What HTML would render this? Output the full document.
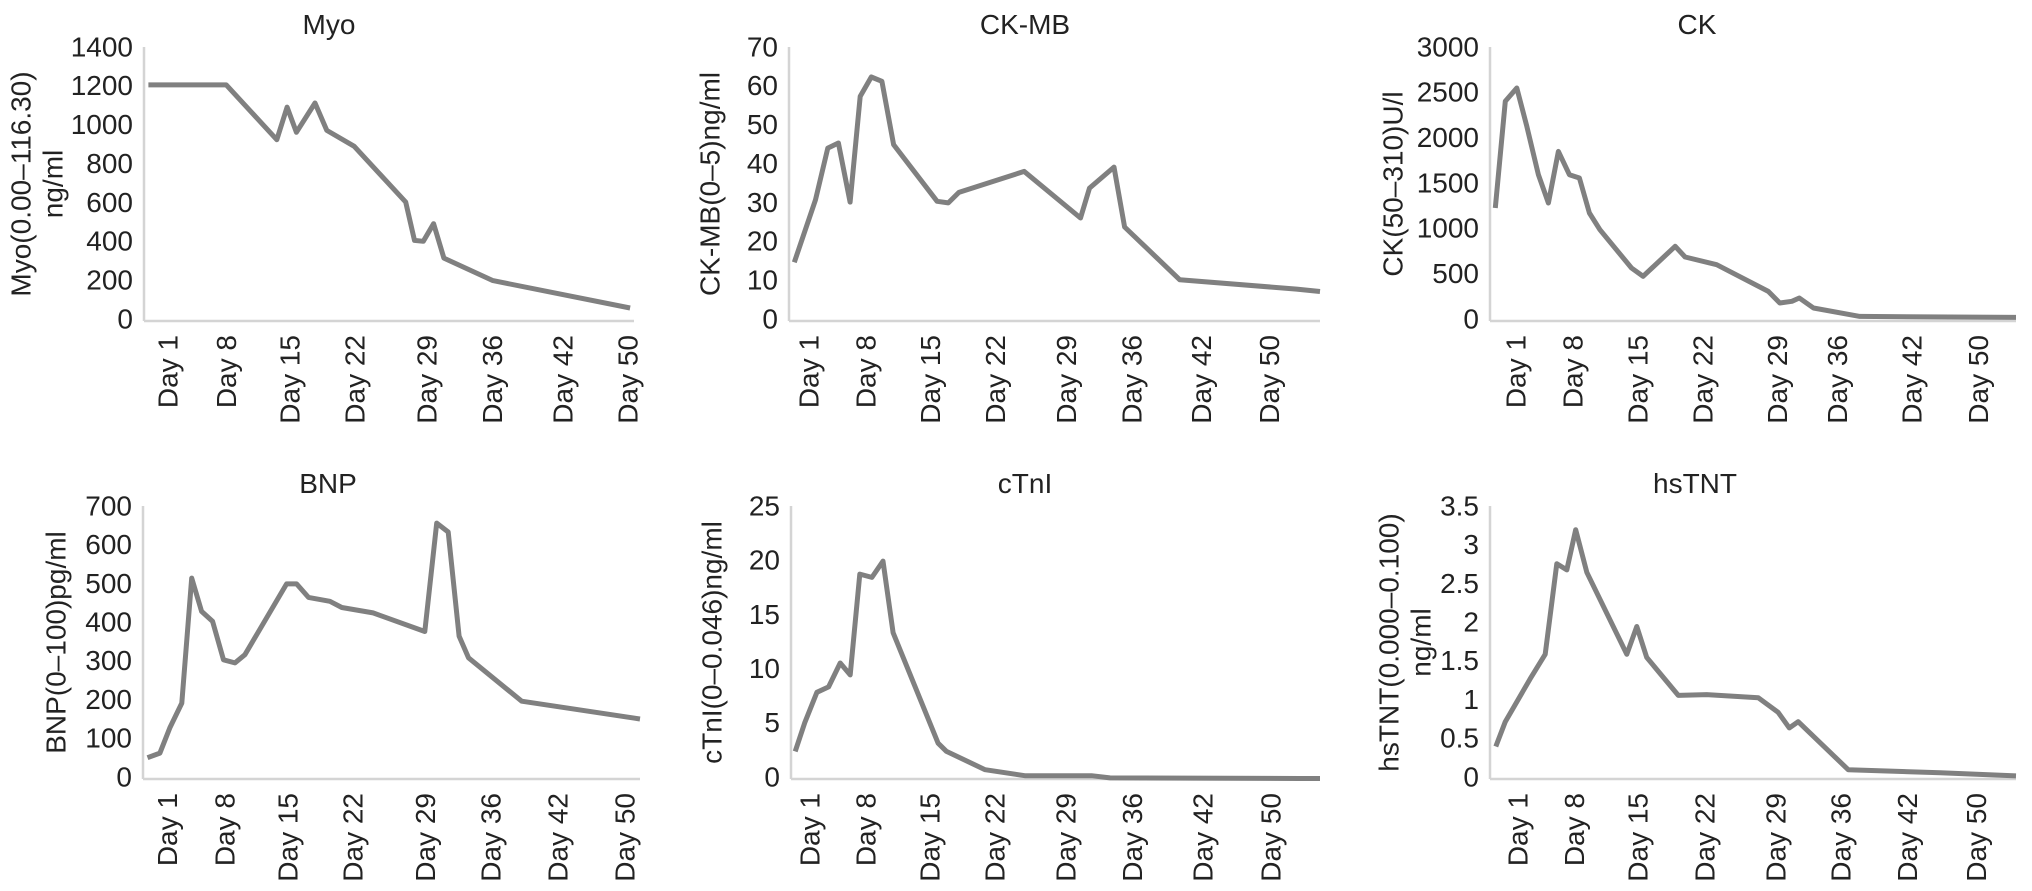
<!DOCTYPE html>
<html><head><meta charset="utf-8"><style>
html,body{margin:0;padding:0;background:#fff;}
svg{display:block;font-family:"Liberation Sans",Arial,sans-serif;}
</style></head><body>
<svg id="fig" width="2032" height="891" viewBox="0 0 2032 891"></svg>
<script>
const dayLabels = ["Day 1","Day 8","Day 15","Day 22","Day 29","Day 36","Day 42","Day 50"];

// Myo
const myoTicks = [0,200,400,600,800,1000,1200,1400];
const myoTickPos = [5.3,17.3,30.2,43.5,58.2,71.6,85.9,99.2];
const myoX = [0.9,16.8,27.1,29.2,31.1,34.9,37.3,42.9,53.4,55.2,57.0,59.1,61.2,71.2,99.2];
const myoY = [1215,1215,933,1101,971,1122,981,899,612,415,410,501,324,208,67];

// CK-MB
const ckmbTicks = [0,10,20,30,40,50,60,70];
const ckmbTickPos = [4.2,14.9,27.0,39.3,52.7,65.0,78.1,90.9];
const ckmbX = [1.0,5.0,7.3,9.3,11.5,13.4,15.5,17.5,19.7,27.9,30.0,32.0,44.3,54.9,56.6,61.2,63.2,73.6,95.6,100];
const ckmbY = [15.1,31.2,44.5,45.8,30.6,57.8,62.8,61.7,45.4,30.8,30.4,33.1,38.5,26.5,34.2,39.6,24.2,10.6,8.2,7.6];

// CK
const ckTicks = [0,500,1000,1500,2000,2500,3000];
const ckTickPos = [5.3,16.2,28.5,40.9,55.1,66.5,80.6,93.3];
const ckX = [1.0,2.9,5.1,7.0,9.2,11.1,13.0,15.1,17.0,18.9,20.9,26.9,29.1,35.2,37.1,43.1,52.9,55.1,57.4,58.8,61.5,70.3,100];
const ckY = [1246,2423,2570,2147,1614,1301,1871,1614,1577,1191,1007,585,493,824,706,621,327,199,217,254,143,51,40];

// BNP
const bnpTicks = [0,100,200,300,400,500,600,700];
const bnpTickPos = [5.4,16.9,29.6,42.7,57.3,70.4,83.9,97.4];
const bnpX = [0.9,3.4,5.4,7.8,9.8,11.8,14.0,16.2,18.5,20.5,28.9,30.9,33.3,37.6,40.0,46.3,56.7,59.1,61.4,63.6,65.5,76.2,100];
const bnpY = [55,67,132,196,519,433,407,308,300,321,504,504,469,459,443,429,381,661,638,369,313,201,155];

// cTnI
const ctniTicks = [0,5,10,15,20,25];
const ctniTickPos = [4.0,14.6,26.7,39.0,52.4,65.0,78.3,91.1];
const ctniX = [0.8,2.6,4.9,7.1,9.3,11.2,13.0,15.3,17.4,19.3,27.8,29.4,36.7,44.2,56.8,60.3,96.2,100];
const ctniY = [2.55,5.2,8.0,8.5,10.7,9.6,18.9,18.6,20.1,13.5,3.3,2.55,0.86,0.3,0.3,0.1,0.05,0.05];

// hsTNT
const hstntTicks = [0,0.5,1,1.5,2,2.5,3,3.5];
const hstntTickPos = [5.7,16.5,28.5,41.3,54.8,67.1,79.8,92.9];
const hstntX = [1.1,2.9,7.6,10.5,12.7,14.6,16.3,18.4,26.0,27.9,29.8,35.8,41.2,51.0,54.8,56.9,58.6,68.1,85.6,100];
const hstntY = [0.42,0.74,1.29,1.61,2.78,2.70,3.22,2.67,1.61,1.97,1.57,1.08,1.09,1.05,0.86,0.66,0.74,0.12,0.08,0.04];

const NS = "http://www.w3.org/2000/svg";
const svg = document.getElementById("fig");
const FS = 28;
function mk(tag, attrs, parent){ const e=document.createElementNS(NS,tag); for(const k in attrs) e.setAttribute(k,attrs[k]); (parent||svg).appendChild(e); return e; }

const panels = [
 {key:"myo", title:"Myo", ylab:["Myo(0.00\u2013116.30)","ng/ml"], ylabX:[23,55], ax:144, ex:634, y0:321, yt:49, ytop:47, ticks:myoTicks, tpos:myoTickPos, xs:myoX, ys:myoY, tx:329},
 {key:"ckmb", title:"CK-MB", ylab:["CK-MB(0\u20135)ng/ml"], ylabX:[712], ax:789, ex:1320, y0:321, yt:49, ytop:47, ticks:ckmbTicks, tpos:ckmbTickPos, xs:ckmbX, ys:ckmbY, tx:1025},
 {key:"ck", title:"CK", ylab:["CK(50\u2013310)U/l"], ylabX:[1395], ax:1490, ex:2016, y0:321, yt:49, ytop:47, ticks:ckTicks, tpos:ckTickPos, xs:ckX, ys:ckY, tx:1697},
 {key:"bnp", title:"BNP", ylab:["BNP(0\u2013100)pg/ml"], ylabX:[58], ax:143, ex:640, y0:779, yt:508, ytop:506, ticks:bnpTicks, tpos:bnpTickPos, xs:bnpX, ys:bnpY, tx:328},
 {key:"ctni", title:"cTnI", ylab:["cTnI(0\u20130.046)ng/ml"], ylabX:[714], ax:791, ex:1320, y0:779, yt:508, ytop:506, ticks:ctniTicks, tpos:ctniTickPos, xs:ctniX, ys:ctniY, tx:1025},
 {key:"hstnt", title:"hsTNT", ylab:["hsTNT(0.000\u20130.100)","ng/ml"], ylabX:[1391,1423], ax:1490, ex:2016, y0:779, yt:508, ytop:506, ticks:hstntTicks, tpos:hstntTickPos, xs:hstntX, ys:hstntY, tx:1695}
];

panels.forEach(p=>{
  const g = mk("g",{});
  
  
  const maxV = p.ticks[p.ticks.length-1];
  const sx = v => p.ax + (p.ex-p.ax)*v/100;
  const sy = v => p.y0 - (p.y0-p.yt)*v/maxV;
  const cy = (p.y0+p.ytop)/2;
  const t = mk("text",{x:p.tx,y:p.ytop-13,"text-anchor":"middle","font-size":FS,fill:"#222"},g);
  t.textContent = p.title;
  
  
  p.ylab.forEach((s,i)=>{
    const yl = mk("text",{x:p.ylabX[i],y:cy,"text-anchor":"middle","dominant-baseline":"middle","font-size":FS,fill:"#222",transform:`rotate(-90 ${p.ylabX[i]} ${cy})`},g);
    yl.textContent = s;
    
    
  });
  const ya = mk("line",{x1:p.ax,y1:p.ytop,x2:p.ax,y2:p.y0,stroke:"#d4d4d4","stroke-width":2.5},g);
  
  
  const xa = mk("line",{x1:p.ax,y1:p.y0,x2:p.ex,y2:p.y0,stroke:"#d4d4d4","stroke-width":2.5},g);
  
  
  p.ticks.forEach(v=>{
    const tl = mk("text",{x:p.ax-11,y:sy(v),"text-anchor":"end","dominant-baseline":"middle","font-size":FS,fill:"#222"},g);
    tl.textContent = String(v);
    
    
  });
  dayLabels.forEach((d,i)=>{
    const x = sx(p.tpos[i]), y = p.y0+14;
    const dl = mk("text",{x:x,y:y,"text-anchor":"end","dominant-baseline":"middle","font-size":FS,fill:"#222",transform:`rotate(-90 ${x} ${y})`},g);
    dl.textContent = d;
    
    
  });
  const pts = p.xs.map((x,i)=>sx(x).toFixed(1)+","+sy(p.ys[i]).toFixed(1)).join(" ");
  const line = mk("polyline",{points:pts,fill:"none",stroke:"#808080","stroke-width":5,"stroke-linejoin":"round"},g);
  
  
});
</script>
</body></html>
